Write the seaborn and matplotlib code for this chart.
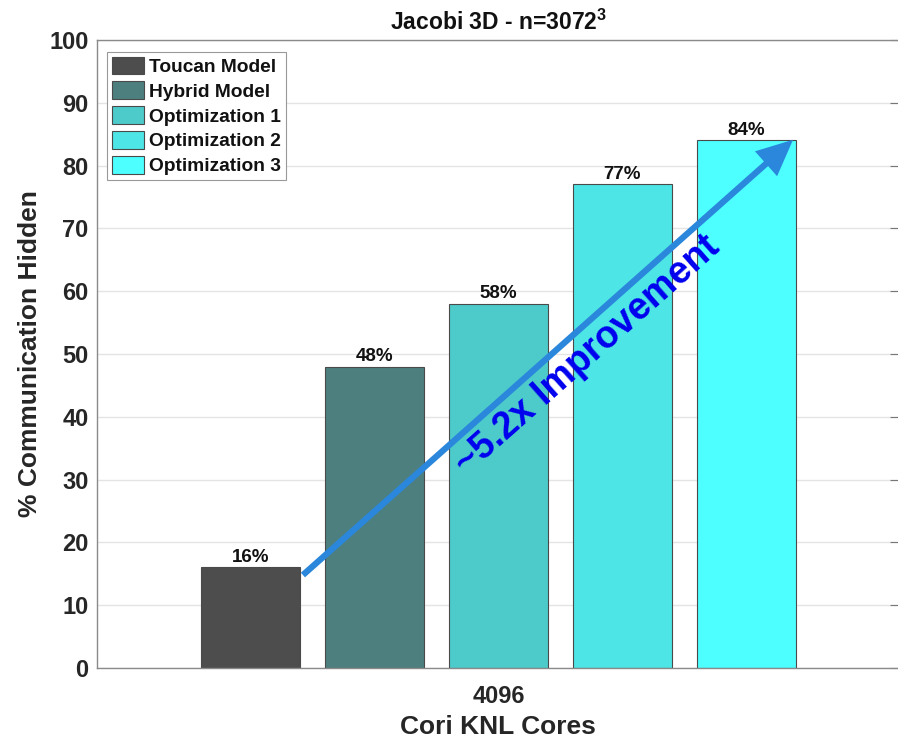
import numpy as np
import pandas as pd
import matplotlib
matplotlib.use("Agg")
import matplotlib.pyplot as plt
import seaborn as sns

# ---- data ----
core_counts = ["4096"]
series = ["Toucan Model", "Hybrid Model", "Optimization 1", "Optimization 2", "Optimization 3"]
hidden_pct = [16, 48, 58, 77, 84]
bar_colors = ["#4d4d4d", "#4d7f7f", "#4dcbcb", "#4de5e5", "#4dffff"]
y_ticks = [0, 10, 20, 30, 40, 50, 60, 70, 80, 90, 100]

df = pd.DataFrame({
    "cores": core_counts * len(series),
    "series": series,
    "hidden": hidden_pct,
})

sns.set_theme(style="white")
plt.rcParams["font.family"] = ["Liberation Sans", "DejaVu Sans"]
plt.rcParams["font.weight"] = "bold"
plt.rcParams["mathtext.fontset"] = "custom"
plt.rcParams["mathtext.rm"] = "Liberation Sans"
plt.rcParams["mathtext.bf"] = "Liberation Sans:bold"

fig = plt.figure(figsize=(8.98, 7.38), dpi=100)
ax = fig.add_axes([0.108, 0.0949, 0.894, 0.851])

sns.barplot(data=df, x="cores", y="hidden", hue="series", hue_order=series,
            palette=bar_colors, width=0.772, gap=0.2, saturation=1,
            edgecolor="#4a4a4a", linewidth=0.8, ax=ax, zorder=2)

ax.set_xlim(-0.5, 0.5)
ax.set_ylim(0, 100)
ax.set_yticks(y_ticks)
ax.yaxis.grid(True, color="#e4e4e4", linewidth=1.0, zorder=0)
ax.set_axisbelow(True)

ax.tick_params(axis="both", which="major", direction="in", length=7, width=0.8,
               color="#777777", labelsize=17, pad=6)
ax.tick_params(axis="y", right=True)
ax.tick_params(axis="x", bottom=True, pad=12)
for lab in ax.get_xticklabels() + ax.get_yticklabels():
    lab.set_fontweight("bold")
    lab.set_color("#262626")

for side in ["left", "bottom", "top", "right"]:
    ax.spines[side].set_color("#8a8a8a")
    ax.spines[side].set_linewidth(1.0)

ax.set_xlabel("Cori KNL Cores", fontsize=19, fontweight="bold", color="#262626", labelpad=5)
ax.set_ylabel("% Communication Hidden", fontsize=19, fontweight="bold", color="#262626", labelpad=5)
ax.set_title("Jacobi 3D - n=3072$^{\\mathbf{3}}$", fontsize=16.5, fontweight="bold",
             color="#111111", pad=7)

# value labels above each bar
for cont in ax.containers:
    ax.bar_label(cont, fmt="%d%%", fontsize=13.5, fontweight="bold",
                 color="#111111", padding=1)

# legend
handles, labels = ax.get_legend_handles_labels()
leg = ax.legend(handles, labels, loc="upper left", bbox_to_anchor=(0.0125, 0.981),
                fontsize=13.8, frameon=True, fancybox=False, framealpha=1,
                edgecolor="#999999", borderpad=0.25, labelspacing=0.28,
                handlelength=1.7, handleheight=1.05, handletextpad=0.25,
                borderaxespad=0)
leg.get_frame().set_linewidth(0.8)
for t in leg.get_texts():
    t.set_fontweight("bold")
    t.set_color("#111111")

# improvement arrow from the first bar to the last bar
x0, y0 = -0.2435, 14.8
x1, y1 = 0.367, 84.1
ax.annotate("", xy=(x1, y1), xytext=(x0, y0),
            arrowprops=dict(width=4.5, headwidth=24, headlength=26,
                            facecolor="#2b87db", edgecolor="none",
                            shrink=0),
            zorder=5)

# rotate the note to follow the arrow on screen
p0 = ax.transData.transform((x0, y0))
p1 = ax.transData.transform((x1, y1))
angle = np.degrees(np.arctan2(p1[1] - p0[1], p1[0] - p0[0]))
ax.text(0.111, 49.8, "~5.2x Improvement", rotation=angle, rotation_mode="anchor",
        ha="center", va="center", fontsize=27, fontweight="bold", color="#0000ee",
        zorder=6)

fig.savefig("out.png", dpi=100)
